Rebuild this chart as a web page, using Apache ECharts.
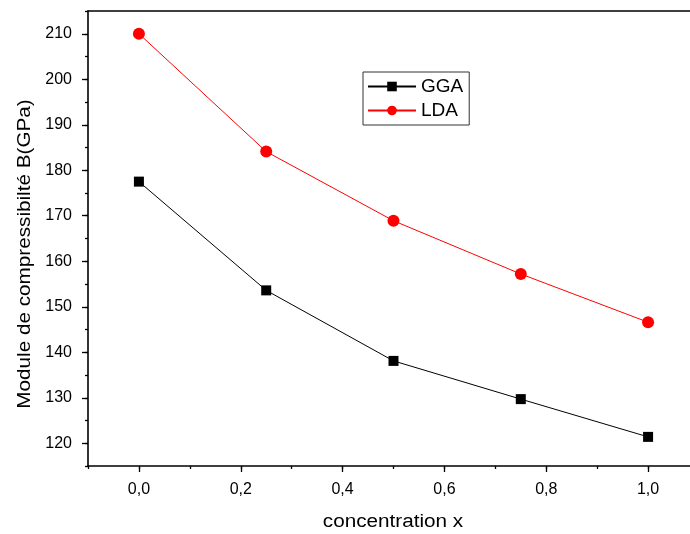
<!DOCTYPE html>
<html>
<head>
<meta charset="utf-8">
<script src="https://cdn.jsdelivr.net/npm/echarts@6/dist/echarts.min.js"></script>
<style>
  html, body { margin: 0; padding: 0; background: #fff; overflow: hidden; width: 690px; height: 534px; }
  /* the frame runs a little past the right edge of the window */
  #chart { width: 700px; height: 534px; }
</style>
</head>
<body>
<div id="chart"></div>
<script>
// Bulk modulus versus concentration x
const concentration = [0.0, 0.25, 0.5, 0.75, 1.0];
const ggaValues = [177.5, 153.6, 138.1, 129.7, 121.4];
const ldaValues = [210.0, 184.1, 168.9, 157.2, 146.6];
const xMajorTicks = [0.0, 0.2, 0.4, 0.6, 0.8, 1.0];
const yMajorTicks = [120, 130, 140, 150, 160, 170, 180, 190, 200, 210];

const FONT = '"Liberation Sans", Arial, sans-serif';
const AXIS_W = 1.6;

const chart = echarts.init(document.getElementById('chart'));

const xRange = { min: -0.1, max: 1.1 };
const yRange = { min: 115, max: 215 };

chart.setOption({
  animation: false,
  grid: { left: 88, top: 11, right: 1, bottom: 68 },
  legend: {
    orient: 'vertical',
    left: 363,
    top: 72,
    padding: [5, 6, 5, 4],
    itemGap: 5,
    itemWidth: 48,
    itemHeight: 12,
    borderColor: '#333',
    borderWidth: 1,
    textStyle: { fontFamily: FONT, fontSize: 19, color: '#000' },
    data: ['GGA', 'LDA']
  },
  xAxis: [
    {
      type: 'value', position: 'bottom', min: xRange.min, max: xRange.max, interval: 0.1,
      axisLine: { onZero: false, lineStyle: { color: '#000', width: AXIS_W } },
      axisTick: { length: 6, customValues: xMajorTicks, lineStyle: { color: '#000', width: 1.3 } },
      axisLabel: {
        margin: 16, customValues: xMajorTicks,
        fontFamily: FONT, fontSize: 16, color: '#000',
        formatter: v => v.toFixed(1).replace('.', ',')
      },
      splitLine: { show: false }
    },
    {
      // minor ticks every 0.1
      type: 'value', position: 'bottom', min: xRange.min, max: xRange.max, interval: 0.1,
      axisLine: { show: false, onZero: false },
      axisTick: { length: 3, lineStyle: { color: '#000', width: 1.3 } },
      axisLabel: { show: false },
      splitLine: { show: false }
    },
    {
      // top frame line
      type: 'value', position: 'top', min: xRange.min, max: xRange.max,
      axisLine: { onZero: false, lineStyle: { color: '#000', width: AXIS_W } },
      axisTick: { show: false }, axisLabel: { show: false }, splitLine: { show: false }
    }
  ],
  yAxis: [
    {
      type: 'value', position: 'left', min: yRange.min, max: yRange.max, interval: 5,
      axisLine: { onZero: false, lineStyle: { color: '#000', width: AXIS_W } },
      axisTick: { length: 6, customValues: yMajorTicks, lineStyle: { color: '#000', width: 1.3 } },
      axisLabel: {
        margin: 16, customValues: yMajorTicks,
        fontFamily: FONT, fontSize: 16, color: '#000'
      },
      splitLine: { show: false }
    },
    {
      // minor ticks every 5
      type: 'value', position: 'left', min: yRange.min, max: yRange.max, interval: 5,
      axisLine: { show: false, onZero: false },
      axisTick: { length: 3, lineStyle: { color: '#000', width: 1.3 } },
      axisLabel: { show: false },
      splitLine: { show: false }
    }
  ],
  graphic: [
    {
      type: 'text',
      x: 25, y: 254,
      rotation: Math.PI / 2,
      scaleX: 1.15,
      style: {
        text: 'Module de compressibilté B(GPa)', fontFamily: FONT, fontSize: 18, fill: '#000',
        align: 'center', verticalAlign: 'middle'
      }
    },
    {
      type: 'text',
      x: 393, y: 522,
      scaleX: 1.15,
      style: {
        text: 'concentration x', fontFamily: FONT, fontSize: 18, fill: '#000',
        align: 'center', verticalAlign: 'middle'
      }
    }
  ],
  series: [
    {
      name: 'GGA', type: 'line',
      data: concentration.map((x, i) => [x, ggaValues[i]]),
      symbol: 'rect', symbolSize: 10,
      lineStyle: { color: '#000', width: 1 },
      itemStyle: { color: '#000' }
    },
    {
      name: 'LDA', type: 'line',
      data: concentration.map((x, i) => [x, ldaValues[i]]),
      symbol: 'circle', symbolSize: 12,
      lineStyle: { color: '#ff0000', width: 1 },
      itemStyle: { color: '#ff0000' }
    }
  ]
});
</script>
</body>
</html>
